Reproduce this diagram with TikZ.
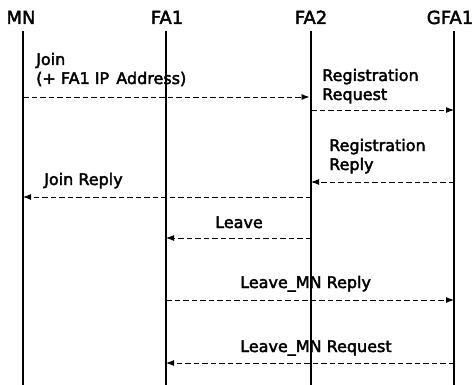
\documentclass[tikz,border=0pt]{standalone}
\usepackage{fontspec}
\setmainfont[FakeBold=2.5]{DejaVu Sans}
\usetikzlibrary{arrows.meta}
\begin{document}
\begin{tikzpicture}[x=1pt,y=1pt,
  actor/.style={font=\fontsize{18}{21}\selectfont, anchor=base, inner sep=0pt},
  lifeline/.style={line width=1.1pt},
  msg/.style={line width=0.9pt, dash pattern=on 5.5pt off 3pt,
              -{Latex[length=8pt,width=6pt]}},
  lbl/.style={font=\fontsize{16}{19}\selectfont, anchor=base west, inner sep=0pt, align=left}]
\useasboundingbox (0,0) rectangle (476,-385);
% actors
\node[actor] (mn)  at (21,-24)  {MN};
\node[actor] (fa1) at (167,-24) {FA1};
\node[actor] (fa2) at (311,-24) {FA2};
\node[actor] (gfa) at (450,-24) {GFA1};
% lifeline tops and bottoms
\coordinate (mnT)  at (23,-31);  \coordinate (mnB)  at (23,-385);
\coordinate (fa1T) at (166,-31); \coordinate (fa1B) at (166,-385);
\coordinate (fa2T) at (311,-31); \coordinate (fa2B) at (311,-385);
\coordinate (gfaT) at (454,-31); \coordinate (gfaB) at (454,-385);
\draw[lifeline] (mnT) -- (mnB);
\draw[lifeline] (fa1T) -- (fa1B);
\draw[lifeline] (fa2T) -- (fa2B);
\draw[lifeline] (gfaT) -- (gfaB);
% message rows
\coordinate (r1) at (0,-97);
\coordinate (r2) at (0,-110);
\coordinate (r3) at (0,-182);
\coordinate (r4) at (0,-197);
\coordinate (r5) at (0,-238);
\coordinate (r6) at (0,-300);
\coordinate (r7) at (0,-363);
% messages
\draw[msg, shorten >=1.5pt] (mnT |- r1) -- (fa2T |- r1);
\draw[msg] (fa2T |- r2) -- (gfaT |- r2);
\draw[msg] (gfaT |- r3) -- (fa2T |- r3);
\draw[msg] (fa2T |- r4) -- (mnT |- r4);
\draw[msg] (fa2T |- r5) -- (fa1T |- r5);
\draw[msg] (fa1T |- r6) -- (gfaT |- r6);
\draw[msg] (gfaT |- r7) -- (fa1T |- r7);
% message labels
\node[lbl] (l1a) at (36,-65)  {Join};
\node[lbl] (l1b) at (36,-84)  {(+ FA1 IP\hspace{2pt} Address)};
\node[lbl] (l2a) at (322,-81) {Registration};
\node[lbl] (l2b) at (322,-100) {Request};
\node[lbl] (l3a) at (329,-151) {Registration};
\node[lbl] (l3b) at (329,-170) {Reply};
\node[lbl] (l4)  at (44,-185) {Join Reply};
\node[lbl] (l5)  at (215,-228) {Leave};
\node[lbl] (l6)  at (240,-288) {Leave\_MN Reply};
\node[lbl] (l7)  at (240,-352) {Leave\_MN Request};
\end{tikzpicture}
\end{document}
